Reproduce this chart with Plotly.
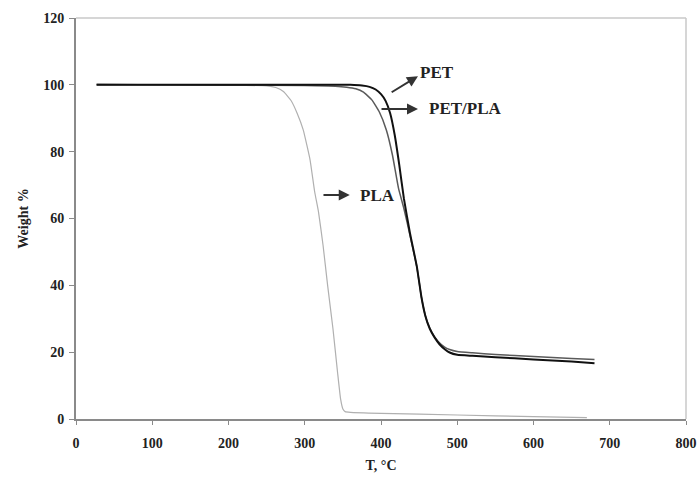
import plotly.graph_objects as go

# ---- data ----
pla_T = [27, 100, 200, 250, 262, 272, 282, 290, 298, 307, 313, 318, 324, 330, 337, 343, 347, 350, 353, 360, 400, 500, 600, 670]
pla_W = [100.3, 100, 99.9, 99.7, 99.2, 98.0, 95.3, 91.5, 86.5, 77.5, 68, 62, 52, 40, 27, 14, 6, 3.0, 2.2, 2.0, 1.7, 1.2, 0.7, 0.4]

pet_T = [27, 100, 200, 300, 360, 375, 385, 393, 400, 406, 412, 418, 424, 430, 438, 447, 453, 458, 464, 470, 477, 484, 490, 500, 520, 550, 600, 650, 680]
pet_W = [100, 100, 100, 100, 100, 99.8, 99.4, 98.6, 97.2, 95.2, 91.5, 85, 76, 66, 55.6, 45.6, 36.5, 31, 27, 24.5, 22.3, 20.8, 19.9, 19.2, 18.9, 18.5, 17.8, 17.2, 16.7]

petpla_T = [27, 100, 200, 300, 340, 355, 367, 377, 388, 398, 407, 415, 423, 430, 438, 447, 453, 460, 467, 475, 483, 490, 500, 520, 550, 600, 650, 680]
petpla_W = [100, 100, 99.9, 99.8, 99.6, 99.3, 98.8, 97.8, 95.5, 91.8, 86.5, 79, 69, 63, 55, 45.5, 36.5, 29.5, 25.8, 23.2, 21.6, 20.8, 20.2, 19.8, 19.3, 18.7, 18.1, 17.8]

x_ticks = [0, 100, 200, 300, 400, 500, 600, 700, 800]
y_ticks = [0, 20, 40, 60, 80, 100, 120]

labels = ["PET", "PET/PLA", "PLA"]
label_pos = [(473, 103.8), (511, 92.8), (395, 67.0)]
arrow_tail = [(412, 97.5), (398.7, 92.8), (322.6, 67.0)]
arrow_head = [(448.5, 102.6), (448.5, 92.8), (359, 67.0)]

FONT = "Liberation Serif"

fig = go.Figure()
fig.add_trace(go.Scatter(x=pla_T, y=pla_W, mode="lines", name="PLA",
                         line=dict(color="#b0b0b0", width=1.2, shape="spline", smoothing=0.4)))
fig.add_trace(go.Scatter(x=petpla_T, y=petpla_W, mode="lines", name="PET/PLA",
                         line=dict(color="#5a5a5a", width=1.5, shape="spline", smoothing=0.4)))
fig.add_trace(go.Scatter(x=pet_T, y=pet_W, mode="lines", name="PET",
                         line=dict(color="#111111", width=2, shape="spline", smoothing=0.4)))

for (tx, ty), (hx, hy) in zip(arrow_tail, arrow_head):
    fig.add_annotation(x=hx, y=hy, ax=tx, ay=ty, xref="x", yref="y", axref="x", ayref="y",
                       text="", showarrow=True, arrowhead=2, arrowsize=1.1, arrowwidth=2,
                       arrowcolor="#333333")
for lab, (lx, ly) in zip(labels, label_pos):
    fig.add_annotation(x=lx, y=ly, xref="x", yref="y", text="<b>%s</b>" % lab, showarrow=False,
                       font=dict(family=FONT, size=17, color="#222222"))

# light top / right frame
fig.add_shape(type="line", xref="paper", yref="paper", x0=0, x1=1, y0=1, y1=1,
              line=dict(color="#c8c8c8", width=1.5))
fig.add_shape(type="line", xref="paper", yref="paper", x0=1, x1=1, y0=0, y1=1,
              line=dict(color="#c8c8c8", width=1.5))

fig.update_layout(
    width=698, height=482,
    margin=dict(l=76, r=12, t=18, b=63, autoexpand=False),
    paper_bgcolor="white", plot_bgcolor="white",
    showlegend=False,
    font=dict(family=FONT, color="#222222"),
    xaxis=dict(range=[0, 800], tickvals=x_ticks, ticktext=[str(v) for v in x_ticks],
               automargin=False, ticklabeloverflow="allow",
               showgrid=False, zeroline=False, showline=True, linecolor="#8a8a8a", linewidth=2,
               ticks="outside", ticklen=4, tickcolor="#8a8a8a", ticklabelstandoff=6,
               tickfont=dict(family=FONT, size=14, weight="bold"),
               title=dict(text="<b>T, °C</b>", font=dict(family=FONT, size=14), standoff=10)),
    yaxis=dict(range=[0, 120], tickvals=y_ticks, ticktext=[str(v) for v in y_ticks],
               automargin=False,
               showgrid=False, zeroline=False, showline=True, linecolor="#8a8a8a", linewidth=2,
               ticks="outside", ticklen=5, tickcolor="#8a8a8a", ticklabelstandoff=2,
               tickfont=dict(family=FONT, size=14, weight="bold"),
               title=dict(text="<b>Weight %</b>", font=dict(family=FONT, size=14), standoff=11)),
)

fig.write_html("out.html", config={"displayModeBar": False},
               post_script="document.body.style.margin='0';document.body.style.overflow='hidden';")
